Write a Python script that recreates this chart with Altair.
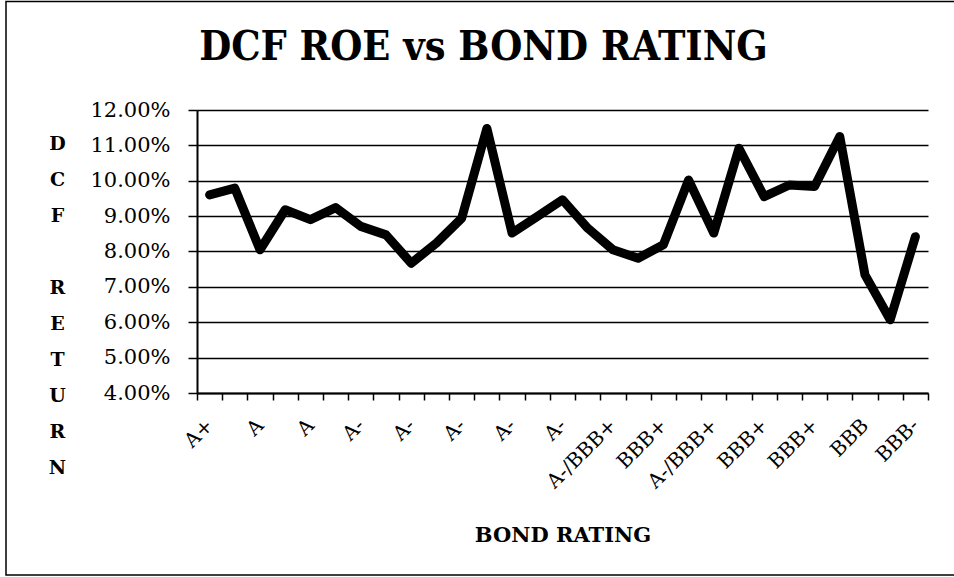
import json
import altair as alt
import pandas as pd

# ---- data ----
shown_labels = ["A+", "A", "A", "A-", "A-", "A-", "A-", "A-",
                "A-/BBB+", "BBB+", "A-/BBB+", "BBB+", "BBB+", "BBB", "BBB-"]
roe_pct = [9.60, 9.79, 8.05, 9.18, 8.90, 9.24, 8.71, 8.47, 7.67, 8.24,
           8.94, 11.48, 8.52, 8.99, 9.46, 8.66, 8.05, 7.81, 8.19, 10.02,
           8.52, 10.92, 9.55, 9.88, 9.84, 11.25, 7.34, 6.07, 8.42]
y_ticks = [0.04, 0.05, 0.06, 0.07, 0.08, 0.09, 0.10, 0.11, 0.12]
y_title_letters = ["D", "C", "F", "\u200b", "R", "E", "T", "U", "R", "N"]

n = len(roe_pct)
df = pd.DataFrame({
    "pos": [i + 0.5 for i in range(n)],
    "roe": [v / 100 for v in roe_pct],
})

x_values = sorted(list(range(n + 1)) + [2 * k + 0.5 for k in range(len(shown_labels))])
label_expr = ("datum.value % 1 == 0 ? '' : "
              + json.dumps(shown_labels) + "[floor(datum.value / 2)]")

W, H = 731, 283
PAD_L, PAD_T = 197, 110
FRAME_TOP = 1.5

line = alt.Chart(df).mark_line(
    color="black", strokeWidth=9, strokeJoin="round", strokeCap="round"
).encode(
    x=alt.X("pos:Q",
            scale=alt.Scale(domain=[0, n], nice=False, zero=False),
            axis=alt.Axis(
                values=x_values,
                labelExpr=label_expr,
                labelAngle=-45,
                labelAlign="right",
                labelBaseline="middle",
                labelFont="DejaVu Serif",
                labelFontSize=20,
                labelColor="black",
                labelPadding=22,
                labelOverlap=False,
                labelFlush=False,
                labelBound=False,
                tickSize=7,
                tickWidth=1.5,
                tickColor="black",
                tickOpacity=alt.condition("datum.value % 1 == 0", alt.value(1), alt.value(0)),
                domainColor="black",
                domainWidth=2,
                grid=False,
                title="BOND RATING",
                titleFont="DejaVu Serif",
                titleFontWeight="bold",
                titleFontSize=21,
                titleColor="black",
                titleBaseline="alphabetic",
                titleY=148,
            )),
    y=alt.Y("roe:Q",
            scale=alt.Scale(domain=[0.04, 0.12], nice=False, zero=False),
            axis=alt.Axis(
                values=y_ticks,
                format=".2%",
                labelFont="DejaVu Serif",
                labelFontSize=21,
                labelColor="black",
                labelPadding=18,
                tickSize=9,
                tickWidth=1.5,
                tickColor="black",
                domainColor="black",
                domainWidth=2,
                grid=True,
                gridColor="black",
                gridWidth=1.5,
                title=y_title_letters,
                titleAngle=0,
                titleAlign="center",
                titleBaseline="alphabetic",
                titleFont="DejaVu Serif",
                titleFontWeight="bold",
                titleFontSize=19,
                titleColor="black",
                titleLineHeight=36,
                titleX=-140,
                titleY=39,
            )),
)

frame = alt.Chart(pd.DataFrame({"a": [0]})).mark_rect(
    fill=None, stroke="black", strokeWidth=1.5
).encode(
    x=alt.value(6 - PAD_L),
    x2=alt.value(960 - PAD_L),
    y=alt.value(FRAME_TOP - PAD_T),
    y2=alt.value(575 - PAD_T),
)

chart = alt.layer(frame, line).properties(
    width=W,
    height=H,
    title=alt.TitleParams(
        "DCF ROE vs BOND RATING",
        font="DejaVu Serif Condensed",
        fontWeight="bold",
        fontSize=41,
        color="black",
        anchor="middle",
        frame="group",
        baseline="alphabetic",
        offset=-100.5,
        dx=-79,
    ),
    autosize=alt.AutoSizeParams(type="none"),
    padding={"left": PAD_L, "top": PAD_T, "right": 954 - PAD_L - W, "bottom": 577 - PAD_T - H},
    background="white",
).configure_view(stroke=None)

chart.save("out.html", embed_options={"renderer": "svg", "actions": False})
